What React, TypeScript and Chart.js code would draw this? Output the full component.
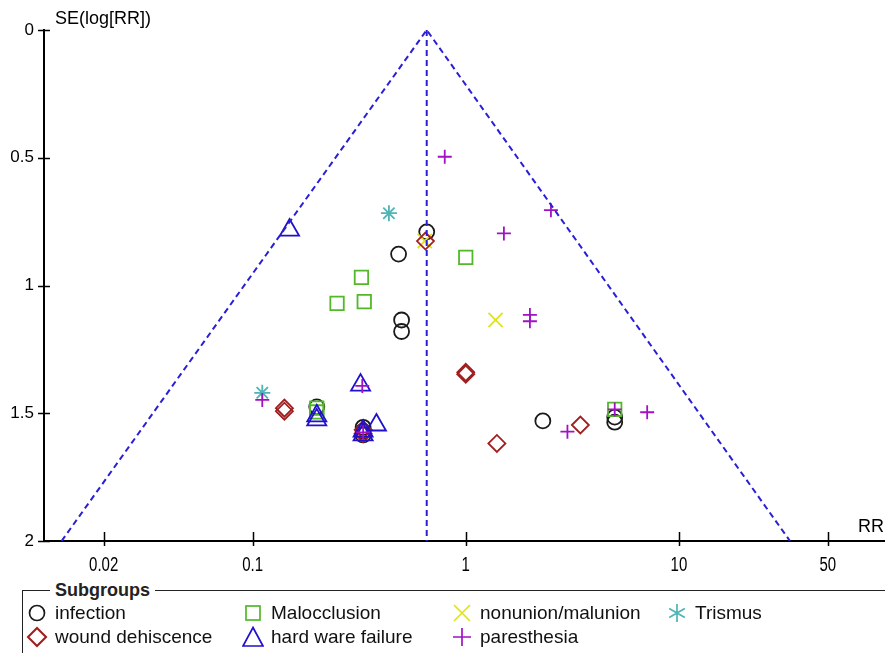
import React, { useEffect, useRef } from "react";
import { Chart, registerables } from "chart.js";

Chart.register(...registerables);

// ---- data ----
const xTickValues = [0.02, 0.1, 1, 10, 50];
const xTickLabels = ["0.02", "0.1", "1", "10", "50"];
const yTickValues = [0, 0.5, 1, 1.5, 2];
const yTickLabels = ["0", "0.5", "1", "1.5", "2"];

const funnelRR = [0.0127, 0.656, 33.2];
const funnelSE = [2, 0, 2];
const pooledRR = [0.656, 0.656];
const pooledSE = [0, 2];

const infectionRR = [0.656, 0.484, 0.5, 0.5, 0.2, 0.33, 0.33, 0.33, 2.3, 5.0, 5.0];
const infectionSE = [0.79, 0.877, 1.135, 1.18, 1.475, 1.555, 1.57, 1.585, 1.53, 1.515, 1.535];
const malocclusionRR = [1.0, 0.324, 0.249, 0.334, 0.2, 0.2, 5.0];
const malocclusionSE = [0.89, 0.968, 1.07, 1.063, 1.48, 1.495, 1.485];
const nonunionRR = [0.642, 1.38];
const nonunionSE = [0.826, 1.135];
const trismusRR = [0.436, 0.111];
const trismusSE = [0.717, 1.42];
const woundRR = [0.647, 0.141, 0.141, 0.33, 0.33, 1.0, 1.0, 1.4, 3.45];
const woundSE = [0.826, 1.48, 1.492, 1.565, 1.58, 1.34, 1.347, 1.618, 1.546];
const hardwareRR = [0.149, 0.321, 0.2, 0.2, 0.381, 0.33, 0.33];
const hardwareSE = [0.783, 1.39, 1.51, 1.526, 1.546, 1.57, 1.585];
const paresthesiaRR = [0.797, 2.51, 1.51, 2.0, 2.0, 0.111, 0.327, 3.0, 5.0, 7.1, 0.33];
const paresthesiaSE = [0.496, 0.705, 0.796, 1.115, 1.14, 1.448, 1.393, 1.572, 1.485, 1.496, 1.575];

const C_BLACK = "#1a1a1a";
const C_GREEN = "#52b82a";
const C_YELLOW = "#e2e21a";
const C_TEAL = "#4db5b5";
const C_RED = "#a11e1e";
const C_BLUE = "#2210cc";
const C_PURPLE = "#a012c4";
const C_FUNNEL = "#2a1fd6";

const SANS = "'Liberation Sans', Arial, sans-serif";

const pts = (xs: number[], ys: number[]) => xs.map((x, i) => ({ x, y: ys[i] }));

const decorPlugin = {
  id: "decor",
  afterDraw(chart: any) {
    const ctx = chart.ctx;
    const xs = chart.scales.x;
    const ys = chart.scales.y;
    const { left, bottom, right } = chart.chartArea;
    ctx.save();
    ctx.strokeStyle = "#000";
    ctx.lineWidth = 1.5;
    ctx.beginPath();
    yTickValues.forEach((v) => {
      const py = Math.round(ys.getPixelForValue(v)) + 0.5;
      ctx.moveTo(left - 6, py);
      ctx.lineTo(left + 6, py);
    });
    xTickValues.forEach((v) => {
      const px = Math.round(xs.getPixelForValue(v)) + 0.5;
      ctx.moveTo(px, bottom - 9);
      ctx.lineTo(px, bottom + 5);
    });
    ctx.stroke();
    ctx.fillStyle = "#000";
    // x tick labels (condensed)
    ctx.font = "20px " + SANS;
    ctx.textBaseline = "middle";
    ctx.textAlign = "center";
    xTickValues.forEach((v, i) => {
      const px = xs.getPixelForValue(v);
      ctx.save();
      ctx.translate(px, bottom + 24);
      ctx.scale(0.75, 1);
      ctx.fillText(xTickLabels[i], 0, 0);
      ctx.restore();
    });
    ctx.textAlign = "left";
    ctx.font = "18px " + SANS;
    ctx.fillText("SE(log[RR])", left + 11, 19);
    ctx.textAlign = "right";
    ctx.fillText("RR", right - 1, bottom - 14);
    ctx.restore();
  },
};

function Marker({ kind, color }: { kind: string; color: string }) {
  const sw = 1.7;
  let el: any = null;
  if (kind === "circle") el = <circle cx="11" cy="11" r="7.5" fill="none" stroke={color} strokeWidth={sw} />;
  if (kind === "square") el = <rect x="4" y="4" width="14" height="14" fill="none" stroke={color} strokeWidth={sw} />;
  if (kind === "x") el = <path d="M3,3 L19,19 M19,3 L3,19" stroke={color} strokeWidth={sw} />;
  if (kind === "star")
    el = <path d="M11,2 L11,20 M3.2,6.5 L18.8,15.5 M18.8,6.5 L3.2,15.5" stroke={color} strokeWidth={sw} />;
  if (kind === "diamond") el = <path d="M11,2 L20,11 L11,20 L2,11 Z" fill="none" stroke={color} strokeWidth={sw + 0.4} />;
  if (kind === "triangle") el = <path d="M11,1.5 L21,20 L1,20 Z" fill="none" stroke={color} strokeWidth={sw} />;
  if (kind === "plus") el = <path d="M11,2 L11,20 M2,11 L20,11" stroke={color} strokeWidth={sw} />;
  return (
    <svg width="22" height="22" style={{ display: "block" }}>
      {el}
    </svg>
  );
}

const legendItems = [
  { label: "infection", kind: "circle", color: C_BLACK, x: 26, y: 602 },
  { label: "Malocclusion", kind: "square", color: C_GREEN, x: 242, y: 602 },
  { label: "nonunion/malunion", kind: "x", color: C_YELLOW, x: 451, y: 602 },
  { label: "Trismus", kind: "star", color: C_TEAL, x: 666, y: 602 },
  { label: "wound dehiscence", kind: "diamond", color: C_RED, x: 26, y: 626 },
  { label: "hard ware failure", kind: "triangle", color: C_BLUE, x: 242, y: 626 },
  { label: "paresthesia", kind: "plus", color: C_PURPLE, x: 451, y: 626 },
];

export default function App() {
  const ref = useRef<HTMLCanvasElement | null>(null);
  useEffect(() => {
    if (!ref.current) return;
    const sc = (label: string, xs: number[], ys: number[], style: string, color: string, r: number) => ({
      label,
      data: pts(xs, ys),
      pointStyle: style,
      pointRadius: r,
      pointHoverRadius: r,
      borderColor: color,
      backgroundColor: "rgba(0,0,0,0)",
      pointBorderWidth: 1.8,
      showLine: false,
    });
    const chart = new Chart(ref.current, {
      type: "scatter",
      data: {
        datasets: [
          {
            label: "funnel",
            data: pts(funnelRR, funnelSE),
            showLine: true,
            borderColor: C_FUNNEL,
            borderWidth: 2,
            borderDash: [6, 4],
            pointRadius: 0,
            fill: false,
          } as any,
          {
            label: "pooled",
            data: pts(pooledRR, pooledSE),
            showLine: true,
            borderColor: C_FUNNEL,
            borderWidth: 2,
            borderDash: [6, 4],
            pointRadius: 0,
            fill: false,
          } as any,
          sc("paresthesia", paresthesiaRR, paresthesiaSE, "cross", C_PURPLE, 7),
          sc("hard ware failure", hardwareRR, hardwareSE, "triangle", C_BLUE, 11),
          sc("wound dehiscence", woundRR, woundSE, "rectRot", C_RED, 8.5),
          sc("Trismus", trismusRR, trismusSE, "star", C_TEAL, 8),
          sc("nonunion/malunion", nonunionRR, nonunionSE, "crossRot", C_YELLOW, 10),
          sc("Malocclusion", malocclusionRR, malocclusionSE, "rect", C_GREEN, 9.5),
          sc("infection", infectionRR, infectionSE, "circle", C_BLACK, 7.5),
        ],
      },
      options: {
        animation: false,
        responsive: true,
        maintainAspectRatio: false,
        layout: { autoPadding: false, padding: { top: 30, right: 0, left: 0, bottom: 0 } },
        plugins: { legend: { display: false }, tooltip: { enabled: false } },
        events: [],
        scales: {
          x: {
            type: "logarithmic",
            min: 0.0105,
            max: 92.7,
            grid: { display: false, drawTicks: false },
            border: { display: true, color: "#000", width: 2 },
            afterBuildTicks: (s: any) => {
              s.ticks = xTickValues.map((v) => ({ value: v }));
            },
            afterFit: (s: any) => {
              s.height = 112;
              s.paddingLeft = 0;
              s.paddingRight = 0;
            },
            ticks: { display: false },
          },
          y: {
            type: "linear",
            reverse: true,
            min: 0,
            max: 2,
            grid: { display: false, drawTicks: false },
            border: { display: true, color: "#000", width: 2 },
            afterBuildTicks: (s: any) => {
              s.ticks = yTickValues.map((v) => ({ value: v }));
            },
            afterFit: (s: any) => {
              s.width = 44;
              s.paddingTop = 0;
              s.paddingBottom = 0;
            },
            ticks: {
              padding: 10,
              color: "#000",
              font: { family: SANS, size: 17 },
              callback: (v: any) => {
                const i = yTickValues.findIndex((t) => Math.abs(t - v) < 1e-9);
                return i >= 0 ? yTickLabels[i] : "";
              },
            },
          },
        },
      } as any,
      plugins: [decorPlugin],
    });
    return () => chart.destroy();
  }, []);

  return (
    <div style={{ position: "absolute", left: 0, top: 0, width: 885, height: 653, overflow: "hidden", background: "#fff" }}>
      <canvas ref={ref} style={{ position: "absolute", left: 0, top: 0 }} />
      <div
        style={{
          position: "absolute",
          left: 22,
          top: 590,
          width: 900,
          height: 100,
          border: "1.5px solid #222",
          boxSizing: "border-box",
        }}
      />
      <div
        style={{
          position: "absolute",
          left: 50,
          top: 580,
          padding: "0 5px",
          background: "#fff",
          fontFamily: SANS,
          fontWeight: "bold",
          fontSize: 18,
          lineHeight: "20px",
          color: "#222",
        }}
      >
        Subgroups
      </div>
      {legendItems.map((it) => (
        <div
          key={it.label}
          style={{
            position: "absolute",
            left: it.x,
            top: it.y,
            display: "flex",
            alignItems: "center",
            height: 22,
            fontFamily: SANS,
            fontSize: 19,
            color: "#111",
            whiteSpace: "nowrap",
          }}
        >
          <Marker kind={it.kind} color={it.color} />
          <span style={{ marginLeft: 7, lineHeight: "22px" }}>{it.label}</span>
        </div>
      ))}
    </div>
  );
}
